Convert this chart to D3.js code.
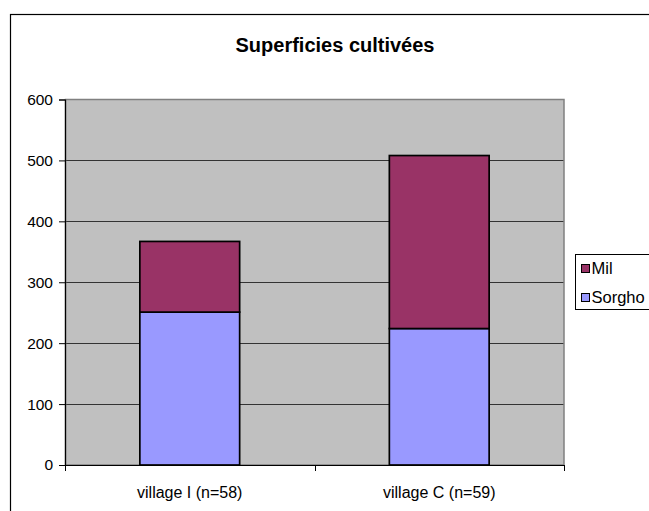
<!DOCTYPE html>
<html>
<head>
<meta charset="utf-8">
<script src="https://cdn.jsdelivr.net/npm/d3@7"></script>
<style>
  html, body { margin: 0; padding: 0; background: #ffffff; }
  svg { display: block; font-family: "Liberation Sans", Arial, sans-serif; }
  svg text { font-family: "Liberation Sans", Arial, sans-serif; }
</style>
</head>
<body>
<svg id="chart" width="649" height="511"></svg>
<script>
// Cultivated areas per village, stacked by crop
const villages = ["village I (n=58)", "village C (n=59)"];
const seriesNames = ["Sorgho", "Mil"];
const sorgho = [251, 224];
const mil = [116, 284];
const yTicks = [0, 100, 200, 300, 400, 500, 600];
const seriesColors = { Sorgho: "#9999FF", Mil: "#993366" };

const svg = d3.select("#chart");

// Outer chart frame
svg.append("rect")
  .attr("x", 10.5).attr("y", 14.5)
  .attr("width", 700).attr("height", 600)
  .attr("fill", "#ffffff").attr("stroke", "#000000").attr("stroke-width", 1.2);

// Title
svg.append("text")
  .attr("x", 335).attr("y", 52)
  .attr("text-anchor", "middle")
  .attr("font-size", 20).attr("font-weight", "bold")
  .attr("fill", "#000000")
  .text("Superficies cultivées");

const plot = { left: 65, right: 564, top: 99.5, bottom: 465 };

const x = d3.scaleBand()
  .domain(villages)
  .range([plot.left, plot.right])
  .padding(0);

const y = d3.scaleLinear()
  .domain([0, 600])
  .range([plot.bottom, plot.top]);

// Plot background
svg.append("rect")
  .attr("x", plot.left).attr("y", plot.top)
  .attr("width", plot.right - plot.left).attr("height", plot.bottom - plot.top)
  .attr("fill", "#C0C0C0");

// Horizontal gridlines
svg.append("g")
  .selectAll("line")
  .data(yTicks.filter(d => d > 0 && d < 600))
  .join("line")
  .attr("x1", plot.left).attr("x2", plot.right)
  .attr("y1", d => Math.round(y(d)) + 0.5).attr("y2", d => Math.round(y(d)) + 0.5)
  .attr("stroke", "#333333").attr("stroke-width", 1);

// Plot border
svg.append("rect")
  .attr("x", plot.left + 0.5).attr("y", plot.top)
  .attr("width", plot.right - plot.left - 0.5).attr("height", plot.bottom - plot.top)
  .attr("fill", "none").attr("stroke", "#808080").attr("stroke-width", 1.5);

// Stacked bars
const table = villages.map((v, i) => ({ village: v, Sorgho: sorgho[i], Mil: mil[i] }));
const stacked = d3.stack().keys(seriesNames)(table);
const barW = x.bandwidth() * 0.4;

svg.append("g")
  .selectAll("g")
  .data(stacked)
  .join("g")
  .attr("fill", d => seriesColors[d.key])
  .selectAll("rect")
  .data(d => d)
  .join("rect")
  .attr("x", d => x(d.data.village) + (x.bandwidth() - barW) / 2)
  .attr("y", d => y(d[1]))
  .attr("width", barW)
  .attr("height", d => y(d[0]) - y(d[1]))
  .attr("stroke", "#000000").attr("stroke-width", 1.7);

// Y axis
const yAxis = svg.append("g")
  .attr("transform", `translate(${plot.left},0)`)
  .call(d3.axisLeft(y).tickValues(yTicks).tickSize(6).tickPadding(6).tickFormat(d3.format("d")));
yAxis.attr("font-family", null).attr("font-size", null);
yAxis.select(".domain").attr("stroke", "#000000").attr("stroke-width", 1.2);
yAxis.selectAll(".tick line").attr("stroke", "#000000");
yAxis.selectAll(".tick text")
  .attr("font-size", 15.5).attr("fill", "#000000");

// X axis with ticks at category boundaries
const xAxisG = svg.append("g").attr("transform", `translate(0,${plot.bottom})`);
xAxisG.append("line")
  .attr("x1", plot.left).attr("x2", plot.right)
  .attr("y1", 0.5).attr("y2", 0.5)
  .attr("stroke", "#000000").attr("stroke-width", 1.2);
const boundaries = villages.map(v => x(v)).concat([x(villages[villages.length - 1]) + x.bandwidth()]);
xAxisG.selectAll("line.bt")
  .data(boundaries)
  .join("line")
  .attr("class", "bt")
  .attr("x1", d => Math.round(d) + 0.5).attr("x2", d => Math.round(d) + 0.5)
  .attr("y1", 0).attr("y2", 6)
  .attr("stroke", "#000000");
xAxisG.selectAll("text")
  .data(villages)
  .join("text")
  .attr("x", d => x(d) + x.bandwidth() / 2)
  .attr("y", 33)
  .attr("text-anchor", "middle")
  .attr("font-size", 16).attr("fill", "#000000")
  .text(d => d);

// Legend
const legend = svg.append("g");
legend.append("rect")
  .attr("x", 575.5).attr("y", 254.5)
  .attr("width", 100).attr("height", 55)
  .attr("fill", "#ffffff").attr("stroke", "#000000").attr("stroke-width", 1);
const legendOrder = ["Mil", "Sorgho"];
const legendItem = legend.selectAll("g.item")
  .data(legendOrder)
  .join("g")
  .attr("class", "item")
  .attr("transform", (d, i) => `translate(581,${264 + i * 29})`);
legendItem.append("rect")
  .attr("x", 0.5).attr("y", 0.5)
  .attr("width", 8).attr("height", 8)
  .attr("fill", d => seriesColors[d])
  .attr("stroke", "#000000").attr("stroke-width", 1);
legendItem.append("text")
  .attr("x", 10.5).attr("y", 10)
  .attr("font-size", 16.5).attr("fill", "#000000")
  .text(d => d);
</script>
</body>
</html>
